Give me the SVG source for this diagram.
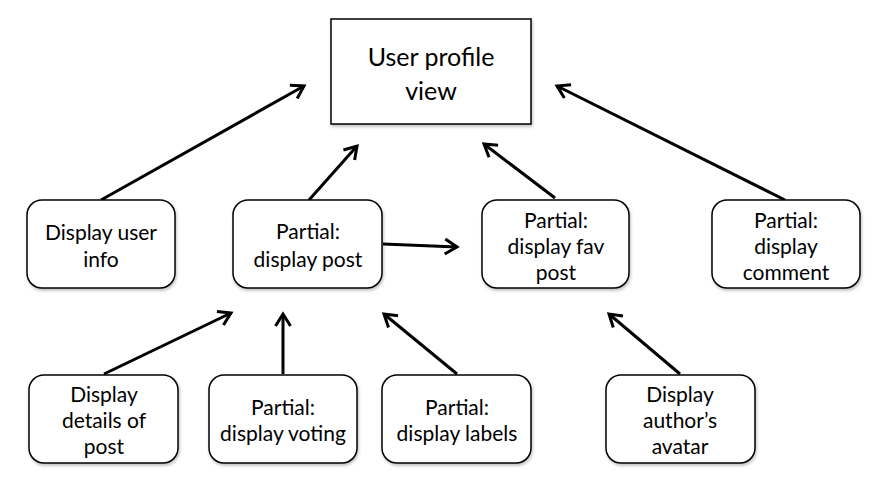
<svg xmlns="http://www.w3.org/2000/svg" width="888" height="497" viewBox="0 0 888 497">
<style>
.box{fill:#fff;stroke:#000;stroke-width:1.5;filter:url(#sh)}
.t{font-family:Lato,"Open Sans",sans-serif;font-size:21px;fill:#000;text-anchor:middle}
.big{font-size:25px}
.c{stroke:#000;stroke-width:3;fill:none;marker-end:url(#ah)}
</style>
<defs>
<filter id="sh" x="-10%" y="-10%" width="120%" height="130%">
<feDropShadow dx="1" dy="2" stdDeviation="1.5" flood-color="#000" flood-opacity="0.25"/>
</filter>
<marker id="ah" viewBox="0 0 12 12" refX="10" refY="6" markerWidth="6" markerHeight="6" markerUnits="strokeWidth" orient="auto">
<polyline points="2,1 10,6 2,11" fill="none" stroke="#000" stroke-width="2"/>
</marker>
</defs>
<g id="connectors">
<line class="c" x1="101" y1="200" x2="304" y2="86"/>
<line class="c" x1="309" y1="200" x2="357" y2="146"/>
<line class="c" x1="555" y1="198" x2="484" y2="144"/>
<line class="c" x1="785" y1="200" x2="557" y2="86"/>
<line class="c" x1="383" y1="244" x2="457" y2="247"/>
<line class="c" x1="104" y1="374" x2="231" y2="313"/>
<line class="c" x1="283" y1="374" x2="283" y2="314"/>
<line class="c" x1="457" y1="374" x2="384" y2="314"/>
<line class="c" x1="680" y1="374" x2="609" y2="314"/>
</g>
<g id="user-profile-view">
<rect class="box" x="331" y="19" width="200" height="105"/>
<text class="t big" x="431" y="66">User profile</text>
<text class="t big" x="431" y="100">view</text>
</g>
<g id="display-user-info">
<rect class="box" x="27" y="200" width="148" height="88" rx="15"/>
<text class="t" x="101" y="240">Display user</text>
<text class="t" x="101" y="267">info</text>
</g>
<g id="display-post">
<rect class="box" x="233" y="200" width="149" height="88" rx="15"/>
<text class="t" x="308" y="239">Partial:</text>
<text class="t" x="308" y="267">display post</text>
</g>
<g id="display-fav-post">
<rect class="box" x="482" y="200" width="147" height="88" rx="15"/>
<text class="t" x="556" y="228">Partial:</text>
<text class="t" x="556" y="254">display fav</text>
<text class="t" x="556" y="280">post</text>
</g>
<g id="display-comment">
<rect class="box" x="712" y="200" width="148" height="88" rx="15"/>
<text class="t" x="786" y="228">Partial:</text>
<text class="t" x="786" y="254">display</text>
<text class="t" x="786" y="280">comment</text>
</g>
<g id="display-details">
<rect class="box" x="29" y="375" width="149" height="88" rx="15"/>
<text class="t" x="104" y="402">Display</text>
<text class="t" x="104" y="428">details of</text>
<text class="t" x="104" y="454">post</text>
</g>
<g id="display-voting">
<rect class="box" x="209" y="375" width="148" height="88" rx="15"/>
<text class="t" x="283" y="415">Partial:</text>
<text class="t" x="283" y="441">display voting</text>
</g>
<g id="display-labels">
<rect class="box" x="382" y="375" width="149" height="88" rx="15"/>
<text class="t" x="457" y="415">Partial:</text>
<text class="t" x="457" y="441">display labels</text>
</g>
<g id="display-avatar">
<rect class="box" x="606" y="375" width="149" height="88" rx="15"/>
<text class="t" x="680" y="402">Display</text>
<text class="t" x="680" y="428">author’s</text>
<text class="t" x="680" y="454">avatar</text>
</g>
</svg>
